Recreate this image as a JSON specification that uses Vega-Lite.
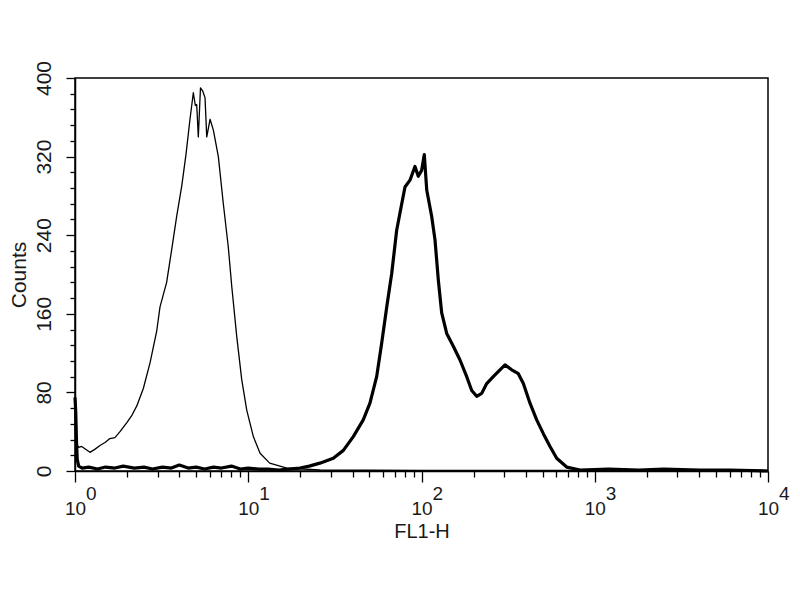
{
  "$schema": "https://vega.github.io/schema/vega-lite/v6.json",
  "width": 693,
  "height": 393,
  "autosize": "none",
  "padding": {"left": 75, "top": 78, "right": 32, "bottom": 129},
  "background": "white",
  "config": {
    "view": {"stroke": "black", "strokeWidth": 1.5},
    "font": "Liberation Sans"
  },
  "datasets": {
    "curves": [
      {"series": "control", "fl1h": 1.0, "counts": 30},
      {"series": "control", "fl1h": 1.05, "counts": 24},
      {"series": "control", "fl1h": 1.093, "counts": 25},
      {"series": "control", "fl1h": 1.22, "counts": 19},
      {"series": "control", "fl1h": 1.3, "counts": 22},
      {"series": "control", "fl1h": 1.394, "counts": 26},
      {"series": "control", "fl1h": 1.49, "counts": 29},
      {"series": "control", "fl1h": 1.59, "counts": 33},
      {"series": "control", "fl1h": 1.7, "counts": 34},
      {"series": "control", "fl1h": 1.818, "counts": 40},
      {"series": "control", "fl1h": 1.987, "counts": 49},
      {"series": "control", "fl1h": 2.12, "counts": 56},
      {"series": "control", "fl1h": 2.27, "counts": 66},
      {"series": "control", "fl1h": 2.48, "counts": 84},
      {"series": "control", "fl1h": 2.71, "counts": 110},
      {"series": "control", "fl1h": 2.96, "counts": 142},
      {"series": "control", "fl1h": 3.095, "counts": 167},
      {"series": "control", "fl1h": 3.38, "counts": 192},
      {"series": "control", "fl1h": 3.62, "counts": 226},
      {"series": "control", "fl1h": 3.86, "counts": 259},
      {"series": "control", "fl1h": 4.13, "counts": 290},
      {"series": "control", "fl1h": 4.37, "counts": 322},
      {"series": "control", "fl1h": 4.61, "counts": 358},
      {"series": "control", "fl1h": 4.82, "counts": 385},
      {"series": "control", "fl1h": 4.95, "counts": 372},
      {"series": "control", "fl1h": 5.04, "counts": 373},
      {"series": "control", "fl1h": 5.15, "counts": 340},
      {"series": "control", "fl1h": 5.3, "counts": 390},
      {"series": "control", "fl1h": 5.45, "counts": 387},
      {"series": "control", "fl1h": 5.63, "counts": 380},
      {"series": "control", "fl1h": 5.76, "counts": 340},
      {"series": "control", "fl1h": 6.02, "counts": 358},
      {"series": "control", "fl1h": 6.29, "counts": 347},
      {"series": "control", "fl1h": 6.72, "counts": 320},
      {"series": "control", "fl1h": 7.18, "counts": 272},
      {"series": "control", "fl1h": 7.67, "counts": 228},
      {"series": "control", "fl1h": 8.03, "counts": 188},
      {"series": "control", "fl1h": 8.58, "counts": 137},
      {"series": "control", "fl1h": 9.17, "counts": 93},
      {"series": "control", "fl1h": 9.8, "counts": 62},
      {"series": "control", "fl1h": 10.7, "counts": 35},
      {"series": "control", "fl1h": 11.7, "counts": 18},
      {"series": "control", "fl1h": 13.3, "counts": 8},
      {"series": "control", "fl1h": 16.7, "counts": 3},
      {"series": "control", "fl1h": 25.9, "counts": 1},
      {"series": "control", "fl1h": 100, "counts": 0.5},
      {"series": "control", "fl1h": 10000, "counts": 0.5},
      {"series": "stained", "fl1h": 1.0, "counts": 75},
      {"series": "stained", "fl1h": 1.01, "counts": 60},
      {"series": "stained", "fl1h": 1.02, "counts": 30},
      {"series": "stained", "fl1h": 1.03, "counts": 12},
      {"series": "stained", "fl1h": 1.05, "counts": 5},
      {"series": "stained", "fl1h": 1.1, "counts": 3},
      {"series": "stained", "fl1h": 1.2, "counts": 4},
      {"series": "stained", "fl1h": 1.35, "counts": 2},
      {"series": "stained", "fl1h": 1.5, "counts": 4},
      {"series": "stained", "fl1h": 1.7, "counts": 3},
      {"series": "stained", "fl1h": 1.9, "counts": 5},
      {"series": "stained", "fl1h": 2.2, "counts": 3},
      {"series": "stained", "fl1h": 2.5, "counts": 4},
      {"series": "stained", "fl1h": 2.8, "counts": 2},
      {"series": "stained", "fl1h": 3.2, "counts": 4},
      {"series": "stained", "fl1h": 3.6, "counts": 3},
      {"series": "stained", "fl1h": 4.0, "counts": 6},
      {"series": "stained", "fl1h": 4.5, "counts": 3},
      {"series": "stained", "fl1h": 5.0, "counts": 4},
      {"series": "stained", "fl1h": 5.6, "counts": 2},
      {"series": "stained", "fl1h": 6.3, "counts": 4},
      {"series": "stained", "fl1h": 7.0, "counts": 3},
      {"series": "stained", "fl1h": 8.0, "counts": 5},
      {"series": "stained", "fl1h": 9.0, "counts": 2},
      {"series": "stained", "fl1h": 10, "counts": 3},
      {"series": "stained", "fl1h": 11.5, "counts": 2},
      {"series": "stained", "fl1h": 13, "counts": 2},
      {"series": "stained", "fl1h": 15, "counts": 1},
      {"series": "stained", "fl1h": 17, "counts": 2},
      {"series": "stained", "fl1h": 19.9, "counts": 3},
      {"series": "stained", "fl1h": 22.5, "counts": 5},
      {"series": "stained", "fl1h": 25.9, "counts": 8},
      {"series": "stained", "fl1h": 30.97, "counts": 13},
      {"series": "stained", "fl1h": 35.4, "counts": 21},
      {"series": "stained", "fl1h": 40.4, "counts": 35},
      {"series": "stained", "fl1h": 46.1, "counts": 52},
      {"series": "stained", "fl1h": 50.4, "counts": 69},
      {"series": "stained", "fl1h": 55.1, "counts": 96},
      {"series": "stained", "fl1h": 58.9, "counts": 130},
      {"series": "stained", "fl1h": 63.0, "counts": 167},
      {"series": "stained", "fl1h": 67.3, "counts": 201},
      {"series": "stained", "fl1h": 71.9, "counts": 245},
      {"series": "stained", "fl1h": 76.9, "counts": 272},
      {"series": "stained", "fl1h": 80.3, "counts": 289},
      {"series": "stained", "fl1h": 85.8, "counts": 296},
      {"series": "stained", "fl1h": 91.7, "counts": 310},
      {"series": "stained", "fl1h": 95.8, "counts": 300},
      {"series": "stained", "fl1h": 100.2, "counts": 306},
      {"series": "stained", "fl1h": 103.8, "counts": 322},
      {"series": "stained", "fl1h": 107.2, "counts": 286},
      {"series": "stained", "fl1h": 114.5, "counts": 259},
      {"series": "stained", "fl1h": 119.7, "counts": 235},
      {"series": "stained", "fl1h": 125.1, "counts": 194},
      {"series": "stained", "fl1h": 130.8, "counts": 161},
      {"series": "stained", "fl1h": 139.8, "counts": 140},
      {"series": "stained", "fl1h": 152.6, "counts": 127},
      {"series": "stained", "fl1h": 166.8, "counts": 113},
      {"series": "stained", "fl1h": 182.4, "counts": 96},
      {"series": "stained", "fl1h": 194.9, "counts": 82},
      {"series": "stained", "fl1h": 208.3, "counts": 76},
      {"series": "stained", "fl1h": 222.6, "counts": 79},
      {"series": "stained", "fl1h": 237.9, "counts": 89},
      {"series": "stained", "fl1h": 259.6, "counts": 96},
      {"series": "stained", "fl1h": 283.8, "counts": 103},
      {"series": "stained", "fl1h": 303.4, "counts": 108},
      {"series": "stained", "fl1h": 331.6, "counts": 103},
      {"series": "stained", "fl1h": 362.2, "counts": 99},
      {"series": "stained", "fl1h": 387.1, "counts": 89},
      {"series": "stained", "fl1h": 422.9, "counts": 69},
      {"series": "stained", "fl1h": 462.2, "counts": 52},
      {"series": "stained", "fl1h": 505, "counts": 38},
      {"series": "stained", "fl1h": 551.9, "counts": 25},
      {"series": "stained", "fl1h": 603, "counts": 13},
      {"series": "stained", "fl1h": 688.5, "counts": 4},
      {"series": "stained", "fl1h": 822, "counts": 1},
      {"series": "stained", "fl1h": 1200, "counts": 2},
      {"series": "stained", "fl1h": 1800, "counts": 1},
      {"series": "stained", "fl1h": 2500, "counts": 2},
      {"series": "stained", "fl1h": 4050, "counts": 1},
      {"series": "stained", "fl1h": 6000, "counts": 1},
      {"series": "stained", "fl1h": 10000, "counts": 0}
    ],
    "exponents": [
      {"fl1h": 1, "exp": "0"},
      {"fl1h": 10, "exp": "1"},
      {"fl1h": 100, "exp": "2"},
      {"fl1h": 1000, "exp": "3"},
      {"fl1h": 10000, "exp": "4"}
    ]
  },
  "layer": [
    {
      "data": {"name": "curves"},
      "mark": {"type": "line", "color": "black", "strokeJoin": "round"},
      "encoding": {
        "x": {
          "field": "fl1h",
          "type": "quantitative",
          "title": "FL1-H",
          "scale": {"type": "log", "domain": [1, 10000], "nice": false},
          "axis": {
            "values": [1,2,3,4,5,6,7,8,9,10,20,30,40,50,60,70,80,90,100,200,300,400,500,600,700,800,900,1000,2000,3000,4000,5000,6000,7000,8000,9000,10000],
            "tickCount": 200,
            "labelExpr": "indexof([1,10,100,1000,10000], datum.value) >= 0 ? '10' : ''",
            "tickSize": {"condition": {"test": "indexof([1,10,100,1000,10000], datum.value) >= 0", "value": 11}, "value": 6},
            "labelPadding": 17,
            "labelFontSize": 19,
            "labelColor": "#1a1a1a",
            "labelFlush": false,
            "labelOverlap": false,
            "labelBound": false,
            "titleFontSize": 20,
            "titleFontWeight": "normal",
            "titleColor": "#1a1a1a",
            "titlePadding": 3,
            "grid": false,
            "domainColor": "black",
            "domainWidth": 1.5,
            "tickColor": "black",
            "tickWidth": 1.3
          }
        },
        "y": {
          "field": "counts",
          "type": "quantitative",
          "title": "Counts",
          "scale": {"domain": [0, 400], "nice": false},
          "axis": {
            "values": [0,16,32,48,64,80,96,112,128,144,160,176,192,208,224,240,256,272,288,304,320,336,352,368,384,400],
            "tickCount": 200,
            "labelExpr": "datum.value % 80 == 0 ? datum.label : ''",
            "tickSize": {"condition": {"test": "datum.value % 80 == 0", "value": 9}, "value": 5},
            "labelAngle": -90,
            "labelPadding": 12,
            "labelFontSize": 21,
            "labelColor": "#1a1a1a",
            "labelOverlap": false,
            "labelFlush": false,
            "labelBound": false,
            "titleFontSize": 21,
            "titleFontWeight": "normal",
            "titleColor": "#1a1a1a",
            "titlePadding": 4,
            "grid": false,
            "domainColor": "black",
            "domainWidth": 1.5,
            "tickColor": "black",
            "tickWidth": 1.3
          }
        },
        "strokeWidth": {
          "field": "series",
          "type": "nominal",
          "scale": {"domain": ["control", "stained"], "range": [1.3, 3.2]},
          "legend": null
        }
      }
    },
    {
      "data": {"name": "exponents"},
      "mark": {"type": "text", "align": "left", "baseline": "middle", "dx": 11, "dy": 23, "fontSize": 19, "font": "Liberation Sans", "color": "#1a1a1a"},
      "encoding": {
        "x": {"field": "fl1h", "type": "quantitative"},
        "y": {"datum": 0},
        "text": {"field": "exp", "type": "nominal"}
      }
    }
  ]
}
